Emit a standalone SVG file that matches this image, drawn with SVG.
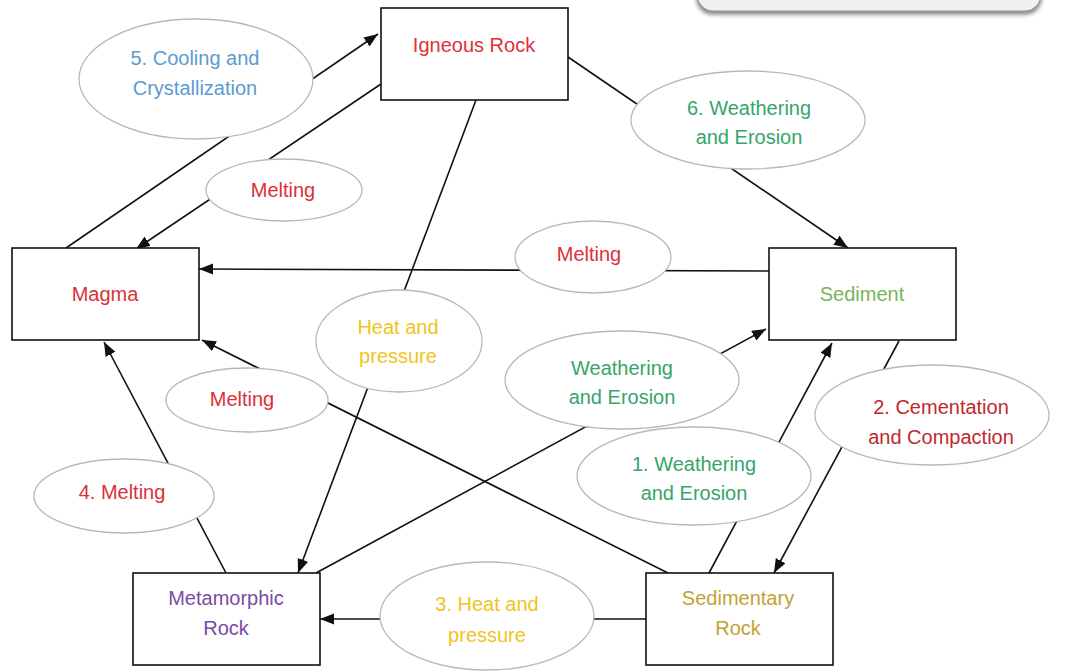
<svg xmlns="http://www.w3.org/2000/svg" width="1072" height="671" viewBox="0 0 1072 671">
<style>
.box{fill:#fff;stroke:#111;stroke-width:1.6}
.ell{fill:#fff;stroke:#b8b8b8;stroke-width:1.3}
.con{stroke:#111;stroke-width:1.6;fill:none}
text{font-family:"Liberation Sans",Arial,sans-serif;font-size:20px;text-anchor:middle}
.red{fill:#dc3038}
.blue{fill:#5a9bd0}
.green{fill:#35a56c}
.lgreen{fill:#78b55a}
.yellow{fill:#f2c31c}
.purple{fill:#7b4aa6}
.olive{fill:#c2a233}
.dred{fill:#c0282e}
</style>
<defs>
<marker id="ah" markerUnits="userSpaceOnUse" markerWidth="15" markerHeight="12" refX="14" refY="5.5" orient="auto">
<path d="M0,0 L14,5.5 L0,11 z" fill="#111"/>
</marker>
<filter id="sh" x="-10%" y="-50%" width="120%" height="250%">
<feGaussianBlur in="SourceAlpha" stdDeviation="2"/>
<feOffset dx="0" dy="3" result="b"/>
<feComponentTransfer><feFuncA type="linear" slope="0.5"/></feComponentTransfer>
<feMerge><feMergeNode/><feMergeNode in="SourceGraphic"/></feMerge>
</filter>
</defs>
<rect x="0" y="0" width="1072" height="671" fill="#fff"/>
<rect x="697" y="-30" width="344" height="41" rx="16" fill="#f0f0f0" stroke="#8a8a8a" stroke-width="1.2" filter="url(#sh)"/>
<g id="connectors">
<line class="con" x1="66" y1="248" x2="378" y2="34" marker-end="url(#ah)"/>
<line class="con" x1="381" y1="84" x2="136" y2="249" marker-end="url(#ah)"/>
<line class="con" x1="568" y1="57" x2="848" y2="248" marker-end="url(#ah)"/>
<line class="con" x1="476" y1="100" x2="298" y2="573" marker-end="url(#ah)"/>
<line class="con" x1="769" y1="271" x2="199" y2="269" marker-end="url(#ah)"/>
<line class="con" x1="668" y1="573" x2="202" y2="340" marker-end="url(#ah)"/>
<line class="con" x1="226" y1="573" x2="104" y2="342" marker-end="url(#ah)"/>
<line class="con" x1="316" y1="573" x2="766" y2="329" marker-end="url(#ah)"/>
<line class="con" x1="709" y1="573" x2="832" y2="343" marker-end="url(#ah)"/>
<line class="con" x1="899" y1="341" x2="774" y2="573" marker-end="url(#ah)"/>
<line class="con" x1="646" y1="619" x2="320" y2="619" marker-end="url(#ah)"/>
</g>
<g id="e-cooling"><ellipse class="ell" cx="196" cy="79" rx="117" ry="60"/><text class="blue" x="195" y="65">5. Cooling and</text><text class="blue" x="195" y="95">Crystallization</text></g>
<g id="e-melt1"><ellipse class="ell" cx="284" cy="190" rx="78" ry="31"/><text class="red" x="283" y="197">Melting</text></g>
<g id="e-weather6"><ellipse class="ell" cx="748" cy="120" rx="117" ry="49"/><text class="green" x="749" y="115">6. Weathering</text><text class="green" x="749" y="144">and Erosion</text></g>
<g id="e-melt2"><ellipse class="ell" cx="593" cy="257" rx="78" ry="36"/><text class="red" x="589" y="261">Melting</text></g>
<g id="e-heat"><ellipse class="ell" cx="399" cy="341" rx="83" ry="51"/><text class="yellow" x="398" y="334">Heat and</text><text class="yellow" x="398" y="363">pressure</text></g>
<g id="e-melt3"><ellipse class="ell" cx="247" cy="400" rx="81" ry="32"/><text class="red" x="242" y="406">Melting</text></g>
<g id="e-weathermid"><ellipse class="ell" cx="622" cy="380" rx="117" ry="49"/><text class="green" x="622" y="375">Weathering</text><text class="green" x="622" y="404">and Erosion</text></g>
<g id="e-cement"><ellipse class="ell" cx="932" cy="415" rx="117" ry="50"/><text class="dred" x="941" y="414">2. Cementation</text><text class="dred" x="941" y="444">and Compaction</text></g>
<g id="e-weather1"><ellipse class="ell" cx="694" cy="476" rx="117" ry="49"/><text class="green" x="694" y="471">1. Weathering</text><text class="green" x="694" y="500">and Erosion</text></g>
<g id="e-melt4"><ellipse class="ell" cx="124" cy="496" rx="90" ry="37"/><text class="red" x="122" y="499">4. Melting</text></g>
<g id="e-heat3"><ellipse class="ell" cx="487" cy="616" rx="107" ry="54"/><text class="yellow" x="487" y="611">3. Heat and</text><text class="yellow" x="487" y="642">pressure</text></g>
<g id="igneous"><rect class="box" x="381" y="8" width="187" height="92"/><text class="red" x="474" y="52">Igneous Rock</text></g>
<g id="magma"><rect class="box" x="12" y="248" width="187" height="92"/><text class="red" x="105" y="301">Magma</text></g>
<g id="sediment"><rect class="box" x="769" y="248" width="187" height="92"/><text class="lgreen" x="862" y="301">Sediment</text></g>
<g id="metamorphic"><rect class="box" x="133" y="573" width="187" height="92"/><text class="purple" x="226" y="605">Metamorphic</text><text class="purple" x="226" y="635">Rock</text></g>
<g id="sedimentary"><rect class="box" x="646" y="573" width="187" height="92"/><text class="olive" x="738" y="605">Sedimentary</text><text class="olive" x="738" y="635">Rock</text></g>
</svg>
